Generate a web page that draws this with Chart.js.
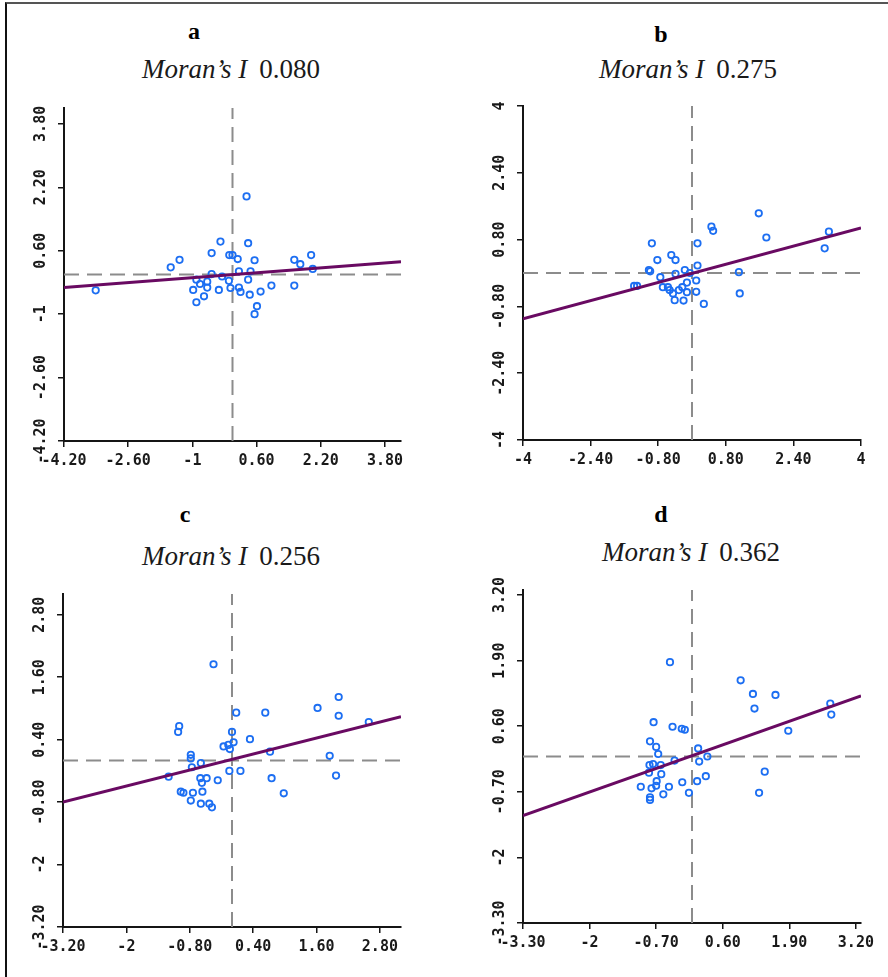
<!DOCTYPE html>
<html>
<head>
<meta charset="utf-8">
<script src="https://cdn.jsdelivr.net/npm/chart.js@4.4.1/dist/chart.umd.min.js"></script>
<style>
	body { margin: 0; background: #fff; }
	#page { position: relative; width: 888px; height: 977px; overflow: hidden; background: #fff; }
	#frame { position: absolute; left: 5px; top: 2px; width: 900px; height: 990px; border-left: 2px solid #111; border-top: 2px solid #555; }
	canvas { position: absolute; }
	.letter { position: absolute; width: 200px; text-align: center; font: bold 24px "Liberation Serif", serif; line-height: 24px; color: #000; }
	.moran { position: absolute; width: 300px; text-align: center; font: 27px "Liberation Serif", serif; line-height: 27px; color: #1a1a1a; }
	.moran i { margin-right: 12px; }
</style>
</head>
<body>
<div id="page">
	<div id="frame"></div>

	<div class="letter" style="left:94px; top:19px;">a</div>
	<div class="moran" style="left:81px; top:56px;"><i>Moran’s I</i>0.080</div>
	<div class="letter" style="left:561px; top:22px;">b</div>
	<div class="moran" style="left:538px; top:56px;"><i>Moran’s I</i>0.275</div>
	<div class="letter" style="left:85px; top:502px;">c</div>
	<div class="moran" style="left:81px; top:543px;"><i>Moran’s I</i>0.256</div>
	<div class="letter" style="left:561px; top:502px;">d</div>
	<div class="moran" style="left:541px; top:539px;"><i>Moran’s I</i>0.362</div>

	<canvas id="chartA"></canvas>
	<canvas id="chartB"></canvas>
	<canvas id="chartC"></canvas>
	<canvas id="chartD"></canvas>
</div>

<script>
// --- data ---

// a
const aX = [0.35, -0.30, 0.39, -0.52, -0.08, 0.00, 0.13, 0.55, -1.32, -1.54, 1.54, 1.69, 1.96, 2.00, -0.52, 0.16, 0.45, -0.26, 0.39, -0.09, -0.90, -0.63, -0.81, -0.63, -0.98, -0.34, -0.05, 0.16, 0.20, 0.43, 0.70, 0.97, 1.54, -0.71, -0.90, 0.61, 0.55, -3.41];
const aY = [1.97, 0.83, 0.79, 0.54, 0.49, 0.49, 0.39, 0.36, 0.37, 0.18, 0.37, 0.26, 0.49, 0.14, 0.01, 0.08, 0.08, -0.05, -0.13, -0.16, -0.13, -0.18, -0.24, -0.33, -0.39, -0.39, -0.34, -0.33, -0.44, -0.51, -0.43, -0.28, -0.28, -0.55, -0.70, -0.80, -1.00, -0.40];
const aTicks = ['-4.20', '-2.60', '-1', '0.60', '2.20', '3.80'];
const aBound = 4.2;
const aFit = [-0.33, 0.32];

// b
const bX = [1.58, 0.46, 0.50, 3.24, 1.76, -0.95, 0.13, 3.14, -0.49, -0.39, -0.82, 0.13, -0.17, -0.99, -1.02, 1.11, -0.39, -0.05, -0.75, 0.10, -0.12, -1.37, -1.30, -0.69, -0.57, -0.23, -0.53, -0.31, 0.10, -0.12, -0.45, 1.13, -0.41, -0.20, 0.28];
const bY = [1.43, 1.11, 1.01, 0.99, 0.85, 0.71, 0.71, 0.59, 0.43, 0.31, 0.31, 0.18, 0.07, 0.04, 0.07, 0.02, -0.02, 0.00, -0.10, -0.18, -0.23, -0.31, -0.31, -0.34, -0.34, -0.34, -0.41, -0.41, -0.45, -0.46, -0.49, -0.49, -0.65, -0.66, -0.74];
const bTicks = ['-4', '-2.40', '-0.80', '0.80', '2.40', '4'];
const bBound = 4;
const bFit = [-1.10, 1.08];

// c
const cX = [-0.35, 0.08, 0.63, 1.62, 2.02, 2.02, 2.59, -1.00, -1.02, 0.00, 0.34, -0.16, -0.07, 0.03, -0.04, 0.72, 1.85, -0.78, -0.78, -0.59, -0.76, -0.05, 0.16, -1.20, -0.60, -0.48, -0.57, -0.27, 0.75, 1.97, -0.97, -0.92, -0.74, -0.56, 0.98, -0.78, -0.59, -0.43, -0.38];
const cY = [1.85, 0.92, 0.92, 1.01, 1.22, 0.86, 0.74, 0.66, 0.55, 0.55, 0.41, 0.27, 0.30, 0.35, 0.22, 0.17, 0.09, 0.11, 0.04, -0.05, -0.13, -0.20, -0.20, -0.31, -0.34, -0.34, -0.43, -0.38, -0.34, -0.29, -0.60, -0.62, -0.62, -0.60, -0.63, -0.77, -0.83, -0.83, -0.90];
const cTicks = ['-3.20', '-2', '-0.80', '0.40', '1.60', '2.80'];
const cBound = 3.2;
const cFit = [-0.80, 0.84];

// d
const dX = [-0.43, 0.95, 1.19, 1.63, 1.22, 2.70, 2.72, -0.75, -0.38, -0.20, -0.14, 1.88, -0.82, -0.70, -0.66, 0.12, 0.30, 0.14, -0.34, -0.83, -0.76, -0.61, -0.84, -0.60, 0.27, 1.42, -0.69, -0.19, 0.10, -0.70, -1.00, -0.79, -0.45, -0.06, 1.31, -0.56, -0.82, -0.82];
const dY = [1.87, 1.51, 1.24, 1.22, 0.95, 1.05, 0.83, 0.68, 0.59, 0.55, 0.53, 0.51, 0.30, 0.19, 0.05, 0.16, 0.00, -0.10, -0.08, -0.17, -0.15, -0.17, -0.32, -0.35, -0.39, -0.30, -0.49, -0.51, -0.49, -0.58, -0.60, -0.63, -0.60, -0.72, -0.72, -0.75, -0.81, -0.86];
const dTicks = ['-3.30', '-2', '-0.70', '0.60', '1.90', '3.20'];
const dBound = 3.3;
const dFit = [-1.17, 1.20];

const blue = '#1c6ef2';
const purple = '#690a62';
const grey = '#8c8c8c';
const axisColor = '#151515';
const tickFont = { family: '"DejaVu Sans Mono", "Liberation Mono", monospace', size: 15, weight: 'bold' };

// canvas sizes around the plot area
const Y_AXIS_W = 54;
const X_AXIS_H = 34;
const PAD_TOP = 30;
const PAD_RIGHT = 20;

function makePanel(id, area, xs, ys, ticks, bound, fit) {
	// area = plot area in page pixels: left, top, right, bottom
	const canvas = document.getElementById(id);
	canvas.width = area.right - area.left + Y_AXIS_W + PAD_RIGHT;
	canvas.height = area.bottom - area.top + PAD_TOP + X_AXIS_H;
	canvas.style.left = (area.left - Y_AXIS_W) + 'px';
	canvas.style.top = (area.top - PAD_TOP) + 'px';

	const points = xs.map((x, i) => ({ x: x, y: ys[i] }));
	const tickValues = ticks.map((t) => parseFloat(t));
	const labelFor = (value) => {
		const i = tickValues.indexOf(value);
		return i >= 0 ? ticks[i] : '';
	};
	const setTicks = (axis) => {
		axis.ticks = tickValues.map((v) => ({ value: v }));
	};

	return new Chart(canvas, {
		type: 'scatter',
		data: {
			datasets: [
				{
					// regression line
					type: 'line',
					data: [{ x: -bound, y: fit[0] }, { x: bound, y: fit[1] }],
					borderColor: purple,
					borderWidth: 3,
					pointRadius: 0,
					order: 0,
				},
				{
					data: points,
					pointStyle: 'circle',
					pointRadius: 3.2,
					borderWidth: 1.8,
					borderColor: blue,
					backgroundColor: 'rgba(255,255,255,0)',
					order: 1,
				},
				{
					// mean lines
					type: 'line',
					data: [{ x: 0, y: -bound }, { x: 0, y: bound }],
					borderColor: grey,
					borderWidth: 2,
					borderDash: [15, 8],
					pointRadius: 0,
					order: 2,
				},
				{
					type: 'line',
					data: [{ x: -bound, y: 0 }, { x: bound, y: 0 }],
					borderColor: grey,
					borderWidth: 2,
					borderDash: [15, 8],
					pointRadius: 0,
					order: 2,
				},
			],
		},
		options: {
			responsive: false,
			animation: false,
			events: [],
			layout: { padding: { top: PAD_TOP, right: PAD_RIGHT, left: 0, bottom: 0 } },
			plugins: {
				legend: { display: false },
				tooltip: { enabled: false },
			},
			scales: {
				x: {
					type: 'linear',
					min: -bound,
					max: bound,
					afterBuildTicks: setTicks,
					afterFit: (axis) => {
						axis.height = X_AXIS_H;
						axis.paddingLeft = 0;
						axis.paddingRight = 0;
					},
					ticks: {
						autoSkip: false,
						maxRotation: 0,
						padding: 5,
						color: '#1a1a1a',
						font: tickFont,
						callback: (value) => labelFor(value),
					},
					grid: { drawOnChartArea: false, tickLength: 6, color: axisColor, lineWidth: 1.5 },
					border: { color: axisColor, width: 2 },
				},
				y: {
					type: 'linear',
					min: -bound,
					max: bound,
					afterBuildTicks: setTicks,
					afterFit: (axis) => {
						axis.width = Y_AXIS_W;
						axis.paddingTop = 0;
						axis.paddingBottom = 0;
					},
					ticks: {
						autoSkip: false,
						minRotation: 90,
						maxRotation: 90,
						crossAlign: 'center',
						padding: -6,
						color: '#1a1a1a',
						font: tickFont,
						callback: (value) => labelFor(value),
					},
					grid: { drawOnChartArea: false, tickLength: 6, color: axisColor, lineWidth: 1.5 },
					border: { color: axisColor, width: 2 },
				},
			},
		},
	});
}

makePanel('chartA', { left: 64, top: 108, right: 401, bottom: 441 }, aX, aY, aTicks, aBound, aFit);
makePanel('chartB', { left: 523, top: 106, right: 861, bottom: 440 }, bX, bY, bTicks, bBound, bFit);
makePanel('chartC', { left: 63, top: 594, right: 401, bottom: 927 }, cX, cY, cTicks, cBound, cFit);
makePanel('chartD', { left: 523, top: 590, right: 861, bottom: 923 }, dX, dY, dTicks, dBound, dFit);
</script>
</body>
</html>
